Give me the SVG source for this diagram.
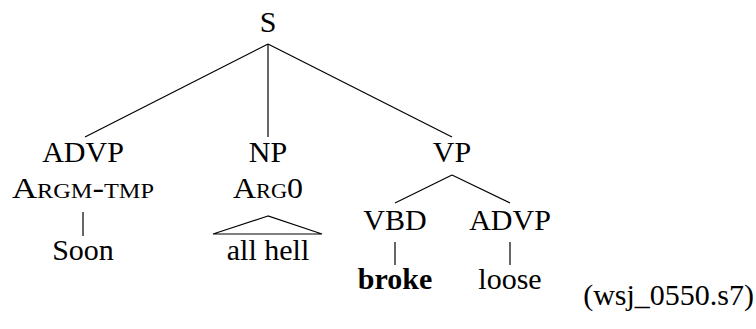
<svg xmlns="http://www.w3.org/2000/svg" width="756" height="329" viewBox="0 0 756 329">
<style>
.e{stroke:#000;stroke-width:1.2;fill:none}
</style>
<rect width="756" height="329" fill="#fff"/>
<g id="connectors">
<line class="e" x1="268" y1="44" x2="85" y2="137"/>
<line class="e" x1="268" y1="44" x2="268" y2="137"/>
<line class="e" x1="268" y1="44" x2="452" y2="137"/>
<line class="e" x1="83" y1="212" x2="83" y2="236"/>
<polygon class="e" points="268,216 213,234 322,234"/>
<line class="e" x1="452" y1="175" x2="395" y2="203"/>
<line class="e" x1="452" y1="175" x2="510" y2="203"/>
<line class="e" x1="395" y1="242" x2="395" y2="265"/>
<line class="e" x1="510" y1="242" x2="510" y2="265"/>
</g>
<g id="n-S"><text x="268" y="32" font-family="Liberation Serif, serif" font-size="30" text-anchor="middle">S</text></g>
<g id="n-ADVP1"><text x="83" y="162" font-family="Liberation Serif, serif" font-size="30" text-anchor="middle">ADVP</text><text x="83" y="198" font-family="Liberation Serif, serif" font-size="30" text-anchor="middle" font-variant="small-caps" textLength="142" lengthAdjust="spacingAndGlyphs">Argm-tmp</text></g>
<g id="n-Soon"><text x="83" y="260" font-family="Liberation Serif, serif" font-size="30" text-anchor="middle">Soon</text></g>
<g id="n-NP"><text x="268" y="162" font-family="Liberation Serif, serif" font-size="30" text-anchor="middle">NP</text><text x="268" y="198" font-family="Liberation Serif, serif" font-size="30" text-anchor="middle" font-variant="small-caps" textLength="70" lengthAdjust="spacingAndGlyphs">Arg0</text></g>
<g id="n-allhell"><text x="268" y="260" font-family="Liberation Serif, serif" font-size="30" text-anchor="middle">all hell</text></g>
<g id="n-VP"><text x="452" y="162" font-family="Liberation Serif, serif" font-size="30" text-anchor="middle">VP</text></g>
<g id="n-VBD"><text x="395" y="230" font-family="Liberation Serif, serif" font-size="30" text-anchor="middle">VBD</text></g>
<g id="n-ADVP2"><text x="510" y="230" font-family="Liberation Serif, serif" font-size="30" text-anchor="middle">ADVP</text></g>
<g id="n-broke"><text x="395" y="289" font-family="Liberation Serif, serif" font-size="30" text-anchor="middle" font-weight="bold">broke</text></g>
<g id="n-loose"><text x="510" y="289" font-family="Liberation Serif, serif" font-size="30" text-anchor="middle">loose</text></g>
<g id="caption"><text x="754" y="305" font-family="Liberation Serif, serif" font-size="30" text-anchor="end">(wsj_0550.s7)</text></g>
</svg>
